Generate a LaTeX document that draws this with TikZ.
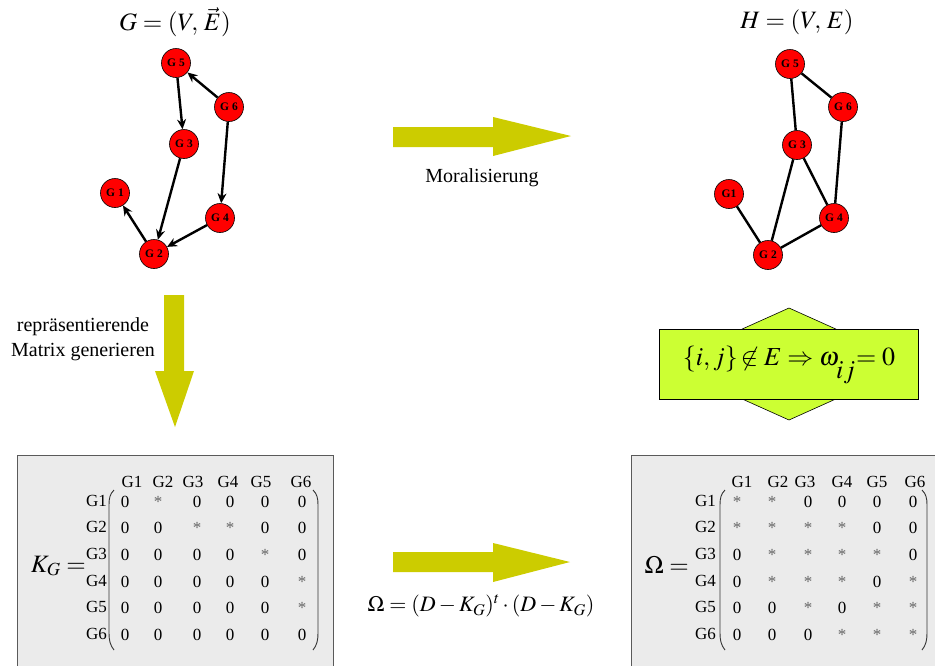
\documentclass[tikz,border=0pt]{standalone}
\usepackage{mathptmx}
\usepackage[no-math]{fontspec}
\setmainfont{Liberation Serif}
\usetikzlibrary{arrows.meta}
\definecolor{arrowcol}{RGB}{204,204,0}
\definecolor{hexcol}{RGB}{204,255,51}
\definecolor{boxgray}{RGB}{235,235,235}
\definecolor{boxline}{RGB}{90,90,90}
\newcommand\mst{\textcolor{black!60}{*}}
\begin{document}
\begin{tikzpicture}[x=1pt,y=-1pt,
  gnode/.style={circle, draw=black, line width=0.6pt, fill=red, minimum size=29pt, inner sep=0pt, font=\bfseries\fontsize{11.5}{11.5}\selectfont},
  dedge/.style={line width=2.4pt, -{Stealth[length=10pt,width=9pt]}},
  uedge/.style={line width=2.4pt},
  bigarrow/.style={fill=arrowcol, draw=none},
  lbl/.style={font=\fontsize{20}{24}\selectfont, inner sep=0pt, align=center},
  mat/.style={font=\fontsize{17}{17}\selectfont, inner sep=0pt},
  mbox/.style={draw=boxline, fill=boxgray, line width=1pt},
  paren/.style={line width=0.9pt, draw=black!80}
]
\useasboundingbox (0,0) rectangle (935,665);
\clip (0,0) rectangle (935,665);

% titles
\node[font=\fontsize{25}{29}\selectfont] (tG) at (175,22) {$G=(V,\,\vec{E})$};
\node[font=\fontsize{25}{29}\selectfont] (tH) at (797,22) {$H=(V,\,E)$};

% left graph
\node[gnode] (L5) at (176,63) {G 5};
\node[gnode] (L6) at (229,107) {G 6};
\node[gnode] (L3) at (184,144) {G 3};
\node[gnode] (L1) at (115,193) {G 1};
\node[gnode] (L4) at (220,218) {G 4};
\node[gnode] (L2) at (154,254) {G 2};
\draw[dedge] (L6) -- (L5);
\draw[dedge] (L5) -- (L3);
\draw[dedge] (L3) -- (L2);
\draw[dedge] (L6) -- (L4);
\draw[dedge] (L4) -- (L2);
\draw[dedge] (L2) -- (L1);

% right graph
\node[gnode] (R5) at (790,64) {G 5};
\node[gnode] (R6) at (843,107) {G 6};
\node[gnode] (R3) at (797,145) {G 3};
\node[gnode] (R1) at (729,194) {G1};
\node[gnode] (R4) at (834,218) {G 4};
\node[gnode] (R2) at (768,255) {G 2};
\draw[uedge] (R1) -- (R2);
\draw[uedge] (R2) -- (R3);
\draw[uedge] (R2) -- (R4);
\draw[uedge] (R3) -- (R4);
\draw[uedge] (R3) -- (R5);
\draw[uedge] (R5) -- (R6);
\draw[uedge] (R6) -- (R4);

% big arrows
\fill[bigarrow] (393,127) -- (493,127) -- (493,117) -- (571,136) -- (493,156) -- (493,147) -- (393,147) -- cycle;
\node[lbl] (moral) at (482,178) {Moralisierung};
\fill[bigarrow] (164,295) -- (184,295) -- (184,371) -- (194,371) -- (175,427) -- (155,371) -- (164,371) -- cycle;
\node[lbl] (repr) at (83,339) {repräsentierende\\[1pt]Matrix generieren};
\fill[bigarrow] (393,552) -- (493,552) -- (493,543) -- (570,562) -- (493,582) -- (493,572) -- (393,572) -- cycle;
\node[font=\fontsize{22}{26}\selectfont] (omf) at (481,606) {$\Omega=(D-K_G)^t\cdot(D-K_G)$};

% hexagon + condition box
\filldraw[fill=hexcol, draw=black, line width=0.6pt] (789,308) -- (838,330) -- (838,398) -- (789,420) -- (740,398) -- (740,330) -- cycle;
\filldraw[fill=hexcol, draw=black, line width=0.8pt] (659,329) rectangle (918,399);
\node[font=\fontsize{26}{30}\selectfont, inner sep=0pt] (cond) at (789,365) {$\{i,j\}\!\not\in E\Rightarrow\omega$\hspace{-3pt}\raisebox{-13pt}{$ij$}\hspace{1pt}$=0$};

% matrix boxes
\filldraw[mbox] (17,455) rectangle (333,700);
\filldraw[mbox] (631,455) rectangle (960,700);

% K_G matrix
\node[font=\fontsize{25}{28}\selectfont, anchor=base east, inner sep=0pt] (KG) at (86,572) {$K_G=$};
\foreach \h [count=\c] in {132,163,193,228,261,301} {\node[mat] (KH\c) at (\h,482) {G\c};}
\foreach \yy [count=\r] in {502,528,555,582,608,635} {\node[mat, anchor=east] (KR\r) at (107,\yy-1) {G\r};}
\foreach \v [count=\c] in {0,\mst,0,0,0,0} {\pgfmathsetmacro\xx{{125,158,197,230,265,302}[\c-1]}\node[mat] (K1-\c) at (\xx,502) {\v};}
\foreach \v [count=\c] in {0,0,\mst,\mst,0,0} {\pgfmathsetmacro\xx{{125,158,197,230,265,302}[\c-1]}\node[mat] (K2-\c) at (\xx,528) {\v};}
\foreach \v [count=\c] in {0,0,0,0,\mst,0} {\pgfmathsetmacro\xx{{125,158,197,230,265,302}[\c-1]}\node[mat] (K3-\c) at (\xx,555) {\v};}
\foreach \v [count=\c] in {0,0,0,0,0,\mst} {\pgfmathsetmacro\xx{{125,158,197,230,265,302}[\c-1]}\node[mat] (K4-\c) at (\xx,582) {\v};}
\foreach \v [count=\c] in {0,0,0,0,0,\mst} {\pgfmathsetmacro\xx{{125,158,197,230,265,302}[\c-1]}\node[mat] (K5-\c) at (\xx,608) {\v};}
\foreach \v [count=\c] in {0,0,0,0,0,0} {\pgfmathsetmacro\xx{{125,158,197,230,265,302}[\c-1]}\node[mat] (K6-\c) at (\xx,635) {\v};}
\draw[paren] (114,490) .. controls (110,494) and (109,498) .. (109,505) -- (109,633) .. controls (109,640) and (110,645) .. (114,650);
\draw[paren] (313,490) .. controls (317,494) and (318,498) .. (318,505) -- (318,633) .. controls (318,640) and (317,645) .. (313,650);

% Omega matrix
\node[font=\fontsize{25}{28}\selectfont, anchor=base east, inner sep=0pt] (OM) at (689,573) {$\Omega=$};
\foreach \h [count=\c] in {742,778,805,842,877,915} {\node[mat] (OH\c) at (\h,482) {G\c};}
\foreach \yy [count=\r] in {502,528,555,582,608,635} {\node[mat, anchor=east] (OR\r) at (716,\yy-1) {G\r};}
\foreach \v [count=\c] in {\mst,\mst,0,0,0,0} {\pgfmathsetmacro\xx{{737,772,808,842,877,913}[\c-1]}\node[mat] (O1-\c) at (\xx,502) {\v};}
\foreach \v [count=\c] in {\mst,\mst,\mst,\mst,0,0} {\pgfmathsetmacro\xx{{737,772,808,842,877,913}[\c-1]}\node[mat] (O2-\c) at (\xx,528) {\v};}
\foreach \v [count=\c] in {0,\mst,\mst,\mst,\mst,0} {\pgfmathsetmacro\xx{{737,772,808,842,877,913}[\c-1]}\node[mat] (O3-\c) at (\xx,555) {\v};}
\foreach \v [count=\c] in {0,\mst,\mst,\mst,0,\mst} {\pgfmathsetmacro\xx{{737,772,808,842,877,913}[\c-1]}\node[mat] (O4-\c) at (\xx,582) {\v};}
\foreach \v [count=\c] in {0,0,\mst,0,\mst,\mst} {\pgfmathsetmacro\xx{{737,772,808,842,877,913}[\c-1]}\node[mat] (O5-\c) at (\xx,608) {\v};}
\foreach \v [count=\c] in {0,0,0,\mst,\mst,\mst} {\pgfmathsetmacro\xx{{737,772,808,842,877,913}[\c-1]}\node[mat] (O6-\c) at (\xx,635) {\v};}
\draw[paren] (725,490) .. controls (721,494) and (720,498) .. (720,505) -- (720,633) .. controls (720,640) and (721,645) .. (725,650);
\draw[paren] (922,490) .. controls (926,494) and (927,498) .. (927,505) -- (927,633) .. controls (927,640) and (926,645) .. (922,650);
\end{tikzpicture}
\end{document}
